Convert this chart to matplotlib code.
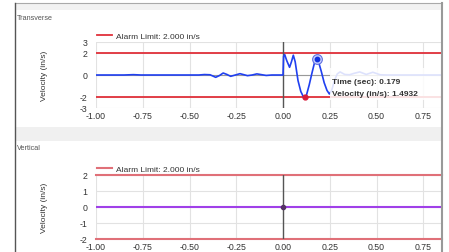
import numpy as np
import matplotlib
matplotlib.use("Agg")
import matplotlib.pyplot as plt
from matplotlib.lines import Line2D
from matplotlib.patches import Rectangle

plt.rcParams['font.family'] = ['Liberation Sans', 'DejaVu Sans']

#---------------------------------------- DATA ----------------------------------------#
alarm_limit = 2.0
alarm_label = "Alarm Limit: 2.000 in/s"
x_ticks = [-1.00, -0.75, -0.50, -0.25, 0.00, 0.25, 0.50, 0.75]
x_tick_labels = ["-1.00", "-0.75", "-0.50", "-0.25", "0.00", "0.25", "0.50", "0.75"]

# transverse velocity (in/s) vs time (sec)
trans_t = [-1.00, -0.85, -0.80, -0.76, -0.45, -0.42, -0.39, -0.36, -0.34, -0.32,
           -0.30, -0.28, -0.255, -0.23, -0.21, -0.19, -0.165, -0.14, -0.115, -0.09,
           -0.06, 0.000, 0.003, 0.009, 0.020, 0.035, 0.045, 0.055, 0.065, 0.080,
           0.095, 0.108, 0.116, 0.125, 0.140, 0.155, 0.168, 0.179, 0.190, 0.205,
           0.220, 0.235, 0.248, 0.260, 0.275, 0.290, 0.305, 0.330, 0.355, 0.380,
           0.410, 0.445, 0.480, 0.520, 0.560, 0.850]
trans_v = [0.00, 0.00, 0.03, 0.00, 0.00, 0.04, 0.02, -0.21, -0.05, 0.18,
           0.05, -0.12, 0.00, 0.12, 0.03, -0.06, 0.00, 0.10, 0.03, -0.04,
           0.00, 0.00, 1.70, 1.85, 1.30, 0.70, 1.20, 1.80, 1.20, -0.50,
           -1.50, -1.95, -2.03, -1.85, -0.90, 0.20, 1.10, 1.4932, 1.20, 0.30,
           -0.70, -1.40, -1.73, -1.40, -0.50, 0.10, 0.28, 0.05, 0.02, 0.15,
           0.28, 0.05, 0.25, 0.02, 0.00, 0.00]
trans_min_t, trans_min_v = 0.116, -2.03
hover_t, hover_v = 0.179, 1.4932

# vertical velocity is flat at zero
vert_t = [-1.00, 0.85]
vert_v = [0.00, 0.00]

W, H = 449, 253
def fx(x):
    return x / W
def fy(y):
    return 1 - y / H

fig = plt.figure(figsize=(4.49, 2.53), dpi=100)

#---------------------------------------- FRAME ----------------------------------------#
fig.add_artist(Rectangle((fx(15), fy(11)), fx(442) - fx(15), 7 / H, color="#f2f2f2", lw=0))
fig.add_artist(Rectangle((fx(15), fy(142)), fx(442) - fx(15), 14 / H, color="#f0f0f0", lw=0))
fig.add_artist(Line2D([fx(15), fx(442)], [fy(4), fy(4)], color="#aaaaaa", lw=0.8))
fig.add_artist(Line2D([fx(15), fx(15)], [fy(4), 0], color="#555555", lw=1.0))
fig.add_artist(Line2D([fx(442), fx(442)], [fy(4), 0], color="#999999", lw=1.5))
fig.text(fx(17), fy(18), "Transverse", fontsize=5.2, color="#555555", va="center")
fig.text(fx(17), fy(149), "Vertical", fontsize=5.2, color="#555555", va="center")
fig.text(fx(45), fy(76), "Velocity (in/s)", rotation=90, fontsize=6, color="#333333",
         ha="center", va="center")
fig.text(fx(45), fy(208), "Velocity (in/s)", rotation=90, fontsize=6, color="#333333",
         ha="center", va="center")

def style_axes(ax, yticks):
    ax.set_xlim(-1.0, 0.85)
    ax.set_xticks(x_ticks)
    ax.set_xticklabels(x_tick_labels)
    ax.set_yticks(yticks)
    ax.set_yticklabels([str(v) for v in yticks])
    ax.grid(color="#e2e2e2", lw=0.8, zorder=0)
    ax.set_axisbelow(True)
    for s in ax.spines.values():
        s.set_visible(False)
    ax.tick_params(length=0, labelsize=6.3, colors="#333333")
    ax.tick_params(axis="x", pad=2)
    ax.tick_params(axis="y", pad=6)

#---------------------------------------- TRANSVERSE ----------------------------------------#
ax1 = fig.add_axes([fx(96), fy(109), fx(442) - fx(96), 66 / H])
ax1.set_ylim(-3, 3)
style_axes(ax1, [-3, -2, 0, 2, 3])
ax1.axhline(0, color="#999999", lw=0.8, zorder=1)
lim1, = ax1.plot([-1.0, 0.85], [alarm_limit, alarm_limit], color="#e0303a", lw=1.3,
                 zorder=2, label=alarm_label)
ax1.plot([-1.0, 0.85], [-alarm_limit, -alarm_limit], color="#e0303a", lw=1.3, zorder=2)
ax1.axvline(0, color="#555555", lw=1.0, zorder=2)
ax1.plot(trans_t, trans_v, color="#2040f0", lw=1.2, zorder=3)
ax1.plot(trans_min_t, trans_min_v, "o", ms=3.5, color="#d81b3a", zorder=3)
ax1.plot(hover_t, hover_v, "o", ms=7, mfc="#c8d0ff", mec="#6070e0", mew=0.8, zorder=3)
ax1.plot(hover_t, hover_v, "o", ms=3.2, color="#1030e0", zorder=3)
ax1.add_patch(Rectangle((0.25, -2.27), 0.6, 2.9, facecolor="white", alpha=0.85, lw=0, zorder=4))
ax1.text(0.262, -0.55, "Time (sec): %.3f" % hover_t, fontsize=6, fontweight="bold",
         color="#333333", va="center", zorder=5)
ax1.text(0.262, -1.64, "Velocity (in/s): %.4f" % hover_v, fontsize=6, fontweight="bold",
         color="#333333", va="center", zorder=5)
ax1.legend(handles=[lim1], loc="lower left", bbox_to_anchor=(0.0, 1.02), frameon=False,
           fontsize=6, handlelength=1.8, handletextpad=0.5, borderpad=0.1, borderaxespad=0,
           labelcolor="#333333")

#---------------------------------------- VERTICAL ----------------------------------------#
ax2 = fig.add_axes([fx(96), fy(240), fx(442) - fx(96), 64 / H])
ax2.set_ylim(-2, 2)
style_axes(ax2, [-2, -1, 0, 1, 2])
lim2, = ax2.plot([-1.0, 0.85], [alarm_limit, alarm_limit], color="#e07078", lw=1.5,
                 zorder=2, clip_on=False, label=alarm_label)
ax2.plot([-1.0, 0.85], [-alarm_limit, -alarm_limit], color="#e07078", lw=1.5, zorder=2,
         clip_on=False)
ax2.axvline(0, color="#555555", lw=1.0, zorder=2)
ax2.plot(vert_t, vert_v, color="#a040e8", lw=1.5, zorder=3)
ax2.plot(0, 0, "o", ms=3, color="#553366", zorder=4)
ax2.legend(handles=[lim2], loc="lower left", bbox_to_anchor=(0.0, 1.02), frameon=False,
           fontsize=6, handlelength=1.8, handletextpad=0.5, borderpad=0.1, borderaxespad=0,
           labelcolor="#333333")

fig.savefig("out.png", dpi=100)
